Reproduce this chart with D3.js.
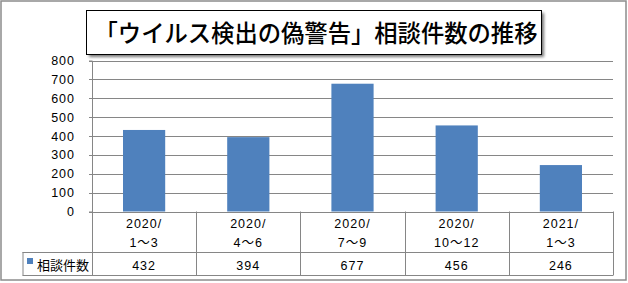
<!DOCTYPE html>
<html lang="ja">
<head>
<meta charset="UTF-8">
<title>ウイルス検出の偽警告 相談件数の推移</title>
<style>
    body, html { margin: 0; padding: 0; background: #fff; }
    svg { display: block; font-family: "Liberation Sans", "Noto Sans CJK JP", sans-serif; }
    .grid line { stroke: #868686; stroke-width: 1; }
    .tbl line { stroke: #868686; stroke-width: 1; }
    .axis text { font-size: 12.5px; fill: #000; font-family: "Liberation Sans", sans-serif; letter-spacing: 1px; }
    .cell { font-size: 12.5px; fill: #000; text-anchor: middle; letter-spacing: 1px; }
</style>
</head>
<body>
<svg width="628" height="283"></svg>
<script src="https://d3js.org/d3.v7.min.js"></script>
<script>
    // data
    const titleText = "「ウイルス検出の偽警告」相談件数の推移";
    const seriesName = "相談件数";
    const yearLabels = ["2020/", "2020/", "2020/", "2020/", "2021/"];
    const monthLabels = ["1～3", "4～6", "7～9", "10～12", "1～3"];
    const counts = [432, 394, 677, 456, 246];
    const yTicks = [0, 100, 200, 300, 400, 500, 600, 700, 800];

    const svg = d3.select("svg");
    const plotL = 92, plotR = 613, plotT = 60.5, plotB = 211.5;
    const row1 = 252, row2 = 275, legendLeft = 22.5;

    // outer frame
    svg.append("rect")
        .attr("x", 1).attr("y", 1).attr("width", 625).attr("height", 279)
        .attr("fill", "#fff").attr("stroke", "#8c8c8c").attr("stroke-width", 1.5);

    const x = d3.scaleBand().domain(d3.range(counts.length)).range([plotL, plotR]);
    const y = d3.scaleLinear().domain([0, 800]).range([plotB, plotT]);

    // gridlines
    svg.append("g").attr("class", "grid")
        .selectAll("line").data(yTicks).enter().append("line")
        .attr("x1", plotL - 3).attr("x2", plotR)
        .attr("y1", d => Math.round(y(d)) + 0.5).attr("y2", d => Math.round(y(d)) + 0.5);

    // y axis
    const yAxis = svg.append("g").attr("class", "axis")
        .attr("transform", `translate(${plotL},0)`)
        .call(d3.axisLeft(y).tickValues(yTicks).tickSize(3).tickPadding(14));
    yAxis.select(".domain").attr("stroke", "#868686");
    yAxis.selectAll(".tick line").remove();

    // bars
    const bw = x.bandwidth() * 0.405;
    svg.append("g").selectAll("rect").data(counts).enter().append("rect")
        .attr("x", (d, i) => x(i) + (x.bandwidth() - bw) / 2)
        .attr("y", d => y(d))
        .attr("width", bw)
        .attr("height", d => y(0) - y(d))
        .attr("fill", "#4F81BD");

    // data table
    const tbl = svg.append("g").attr("class", "tbl");
    const bounds = d3.range(counts.length + 1).map(i => i < counts.length ? x(i) : plotR);
    tbl.selectAll(".v").data(bounds).enter().append("line")
        .attr("x1", d => Math.round(d) + 0.5).attr("x2", d => Math.round(d) + 0.5)
        .attr("y1", plotB).attr("y2", row2 + 0.5);
    tbl.append("line").attr("x1", legendLeft).attr("x2", plotR).attr("y1", row1 + 0.5).attr("y2", row1 + 0.5);
    tbl.append("line").attr("x1", legendLeft).attr("x2", plotR).attr("y1", row2 + 0.5).attr("y2", row2 + 0.5);
    tbl.append("line").attr("x1", legendLeft + 0.5).attr("x2", legendLeft + 0.5).attr("y1", row1).attr("y2", row2 + 0.5);

    const cx = i => x(i) + x.bandwidth() / 2;
    svg.append("g").selectAll("text").data(yearLabels).enter().append("text")
        .attr("class", "cell").attr("x", (d, i) => cx(i)).attr("y", 227.5).text(d => d);
    svg.append("g").selectAll("text").data(monthLabels).enter().append("text")
        .attr("class", "cell").attr("x", (d, i) => cx(i)).attr("y", 247).text(d => d);
    svg.append("g").selectAll("text").data(counts).enter().append("text")
        .attr("class", "cell").attr("x", (d, i) => cx(i)).attr("y", 269.5).text(d => d);

    // legend cell
    svg.append("rect").attr("x", 27).attr("y", 258).attr("width", 6).attr("height", 6).attr("fill", "#4F81BD");
    svg.append("text").attr("x", 37).attr("y", 269.5).attr("font-size", 13)
        .attr("font-family", "'Noto Sans CJK JP', sans-serif").text(seriesName);

    // title box with shadow
    const defs = svg.append("defs");
    const f = defs.append("filter").attr("id", "sh").attr("x", "-10%").attr("y", "-30%").attr("width", "120%").attr("height", "160%");
    f.append("feGaussianBlur").attr("stdDeviation", 1.5);
    svg.append("rect").attr("x", 89).attr("y", 13).attr("width", 455).attr("height", 44)
        .attr("fill", "#777").attr("filter", "url(#sh)");
    svg.append("rect").attr("x", 86.5).attr("y", 10.5).attr("width", 455).attr("height", 44)
        .attr("fill", "#fff").attr("stroke", "#000").attr("stroke-width", 1);
    svg.append("text").attr("x", 316).attr("y", 41.5)
        .attr("text-anchor", "middle").attr("font-size", 24).attr("font-weight", 500)
        .attr("font-family", "'Noto Sans CJK JP', sans-serif")
        .attr("textLength", 443).attr("lengthAdjust", "spacingAndGlyphs")
        .text(titleText);
</script>
</body>
</html>
